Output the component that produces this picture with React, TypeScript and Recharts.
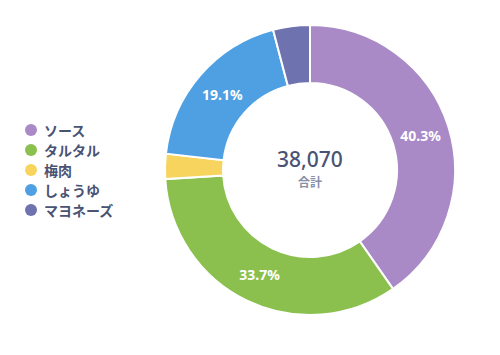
import React from 'react';
import { PieChart, Pie, Cell } from 'recharts';

const categories = ['ソース', 'タルタル', '梅肉', 'しょうゆ', 'マヨネーズ'];
const values = [15342, 12830, 1066, 7271, 1561];
const colors = ['#A98AC6', '#8BC04F', '#F7D45E', '#4EA0E3', '#6E72AF'];

const data = categories.map((name, i) => ({ name, value: values[i] }));
const total = values.reduce((a, b) => a + b, 0);

const RADIAN = Math.PI / 180;

const renderLabel = (props: any) => {
  const { cx, cy, midAngle, innerRadius, outerRadius, percent } = props;
  if (percent < 0.05) return null;
  const r = (innerRadius + outerRadius) / 2;
  const x = cx + r * Math.cos(-midAngle * RADIAN);
  const y = cy + r * Math.sin(-midAngle * RADIAN);
  return (
    <text x={x} y={y} fill="#fff" textAnchor="middle" dominantBaseline="central"
      fontSize={14} fontWeight={700} fontFamily="'Noto Sans', sans-serif">
      {(percent * 100).toFixed(1)}%
    </text>
  );
};

export default function App() {
  return (
    <div style={{ position: 'absolute', left: 0, top: 0, width: 500, height: 355, background: '#fff' }}>
      <PieChart width={500} height={355} margin={{ top: 0, right: 0, bottom: 0, left: 0 }}>
        <Pie data={data} dataKey="value" nameKey="name" cx={310} cy={170} innerRadius={87} outerRadius={145}
          startAngle={90} endAngle={-270} stroke="#fff" strokeWidth={2}
          label={renderLabel} labelLine={false} isAnimationActive={false}>
          {data.map((d, i) => <Cell key={d.name} fill={colors[i]} />)}
        </Pie>
      </PieChart>
      <div style={{ position: 'absolute', left: 25, top: 120, fontFamily: "'Noto Sans CJK JP', sans-serif" }}>
        {data.map((d, i) => (
          <div key={d.name} style={{ display: 'flex', alignItems: 'center', height: 20 }}>
            <span style={{ width: 12, height: 12, borderRadius: '50%', background: colors[i], marginRight: 7 }} />
            <span style={{ fontSize: 14, fontWeight: 700, color: '#4A5373' }}>{d.name}</span>
          </div>
        ))}
      </div>
      <div style={{ position: 'absolute', left: 230, width: 160, top: 147, textAlign: 'center' }}>
        <div style={{ fontSize: 21, lineHeight: '24px', fontWeight: 500, color: '#4A5373', fontFamily: "'Noto Sans', sans-serif" }}>
          {total.toLocaleString('en-US')}
        </div>
        <div style={{ marginTop: 4, fontSize: 12, lineHeight: '14px', fontWeight: 700, color: '#8890A8', fontFamily: "'Noto Sans CJK JP', sans-serif" }}>
          合計
        </div>
      </div>
    </div>
  );
}
